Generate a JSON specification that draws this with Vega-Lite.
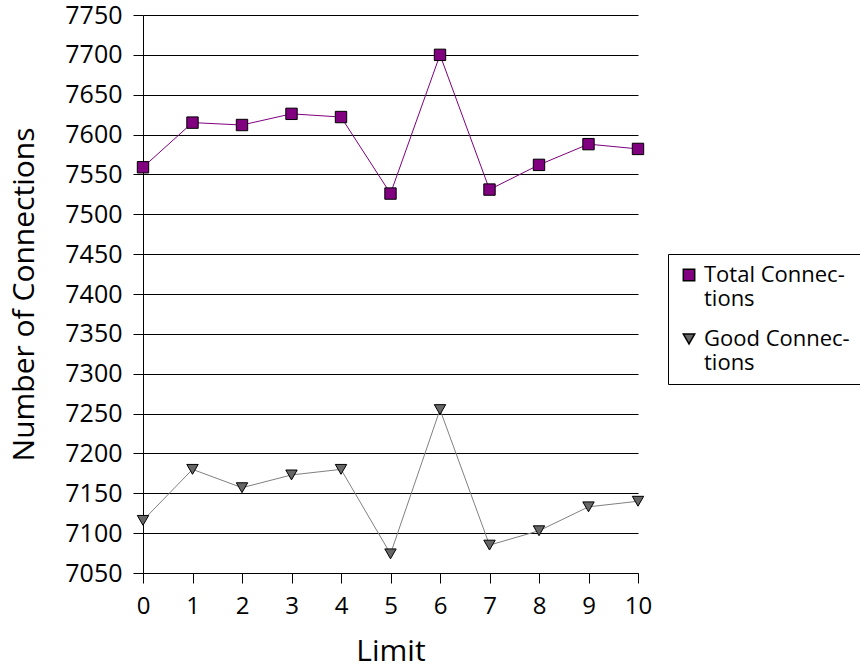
{
  "$schema": "https://vega.github.io/schema/vega-lite/v6.json",
  "width": 495,
  "height": 558,
  "autosize": {"type": "none"},
  "padding": {"left": 143, "top": 15, "right": 222, "bottom": 96},
  "background": "white",
  "config": {
    "font": "Open Sans",
    "view": {"stroke": null},
    "axis": {"domainColor": "black", "tickColor": "black", "gridColor": "black", "labelColor": "black", "titleColor": "black", "labelFont": "Open Sans", "titleFont": "Open Sans", "titleFontWeight": "normal"},
    "legend": {"labelFont": "Open Sans", "labelFontSize": 22, "labelColor": "black"}
  },
  "data": {
    "values": [
      {"limit": 0, "series": "Total Connections", "value": 7559},
      {"limit": 1, "series": "Total Connections", "value": 7615},
      {"limit": 2, "series": "Total Connections", "value": 7612},
      {"limit": 3, "series": "Total Connections", "value": 7626},
      {"limit": 4, "series": "Total Connections", "value": 7622},
      {"limit": 5, "series": "Total Connections", "value": 7526},
      {"limit": 6, "series": "Total Connections", "value": 7700},
      {"limit": 7, "series": "Total Connections", "value": 7531},
      {"limit": 8, "series": "Total Connections", "value": 7562},
      {"limit": 9, "series": "Total Connections", "value": 7588},
      {"limit": 10, "series": "Total Connections", "value": 7582},
      {"limit": 0, "series": "Good Connections", "value": 7116},
      {"limit": 1, "series": "Good Connections", "value": 7180},
      {"limit": 2, "series": "Good Connections", "value": 7157},
      {"limit": 3, "series": "Good Connections", "value": 7173},
      {"limit": 4, "series": "Good Connections", "value": 7180},
      {"limit": 5, "series": "Good Connections", "value": 7074},
      {"limit": 6, "series": "Good Connections", "value": 7255},
      {"limit": 7, "series": "Good Connections", "value": 7085},
      {"limit": 8, "series": "Good Connections", "value": 7103},
      {"limit": 9, "series": "Good Connections", "value": 7133},
      {"limit": 10, "series": "Good Connections", "value": 7140}
    ]
  },
  "encoding": {
    "x": {
      "field": "limit", "type": "quantitative",
      "scale": {"domain": [0, 10], "nice": false, "zero": false},
      "axis": {"title": "Limit", "values": [0,1,2,3,4,5,6,7,8,9,10], "grid": false, "tickSize": 10, "labelFontSize": 24, "titleFontSize": 30, "labelPadding": 11, "titlePadding": 18, "labelFlush": false}
    },
    "y": {
      "field": "value", "type": "quantitative",
      "scale": {"domain": [7050, 7750], "nice": false, "zero": false},
      "axis": {"title": "Number of Connections", "format": "d", "values": [7050,7100,7150,7200,7250,7300,7350,7400,7450,7500,7550,7600,7650,7700,7750], "grid": true, "tickSize": 10, "labelFontSize": 25, "titleFontSize": 30, "labelPadding": 11, "titlePadding": 25, "labelFlush": false}
    }
  },
  "layer": [
    {
      "mark": {"type": "line", "strokeWidth": 1},
      "encoding": {
        "stroke": {"field": "series", "type": "nominal", "scale": {"domain": ["Good Connections", "Total Connections"], "range": ["#808080", "#800080"]}, "legend": null},
        "detail": {"field": "series"}
      }
    },
    {
      "mark": {"type": "point", "filled": true, "stroke": "black", "strokeWidth": 1, "opacity": 1, "size": 130},
      "encoding": {
        "fill": {"field": "series", "type": "nominal", "scale": {"domain": ["Total Connections", "Good Connections"], "range": ["#800080", "#666666"]},
          "legend": {"title": null, "orient": "none", "legendX": 525, "legendY": 239, "strokeColor": "black", "padding": 10, "symbolSize": 130, "rowPadding": 18, "labelLimit": 300, "labelOffset": 4,
            "labelExpr": "datum.label == 'Total Connections' ? ['Total Connec-', 'tions'] : ['Good Connec-', 'tions']",
            "encode": {"labels": {"update": {"lineHeight": {"value": 25}}}}}},
        "shape": {"field": "series", "type": "nominal", "scale": {"domain": ["Total Connections", "Good Connections"], "range": ["square", "triangle-down"]}}
      }
    }
  ]
}
